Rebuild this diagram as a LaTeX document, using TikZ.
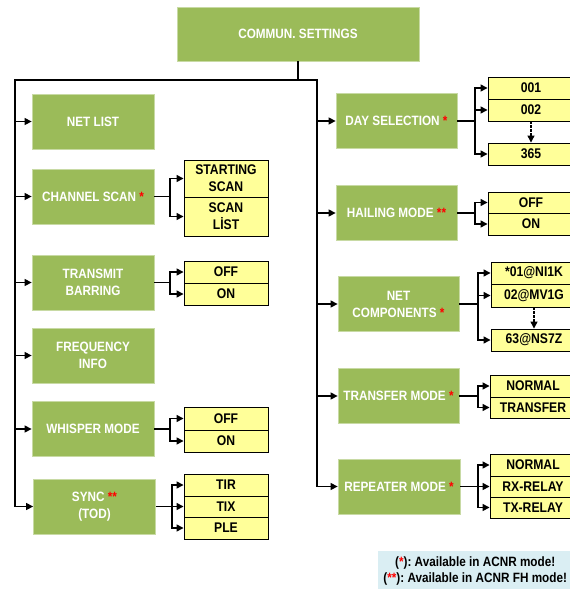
\documentclass[tikz,border=0pt]{standalone}
\usepackage{fontspec}
\setmainfont{Liberation Sans}[FakeStretch=0.87]
\usetikzlibrary{arrows.meta}
\definecolor{grn}{HTML}{9BBB59}
\definecolor{ylw}{HTML}{FFFF99}
\definecolor{lgnd}{HTML}{DAEEF3}
\newcommand\redst[1]{\textcolor{red}{#1}}
\begin{document}
\begin{tikzpicture}[x=1pt,y=-1pt,
 gbox/.style={fill=grn, draw=grn!55!white, line width=0.8pt, text=white,
   font=\fontsize{13.5}{17}\selectfont\bfseries, align=center, inner sep=0pt,
   minimum height=55pt, minimum width=122pt},
 ybox/.style={fill=ylw, draw=black, line width=0.9pt,
   font=\fontsize{14}{17}\selectfont\bfseries, align=center, inner sep=0pt},
 lyb/.style={ybox, minimum width=84pt},
 ryb/.style={ybox, minimum width=86pt},
 ln/.style={line width=1.4pt, draw=black},
 arr/.style={ln, -{Triangle[length=7pt,width=7pt]}},
 darr/.style={line width=1.2pt, dash pattern=on 2.5pt off 1.5pt, -{Triangle[length=7pt,width=7pt]}},
]
\clip (0,0) rectangle (570,589);

% top
\node[gbox, minimum width=242pt, minimum height=54pt] (top) at (298,34) {COMMUN. SETTINGS};

% left green
\node[gbox] (netlist) at (93,121.5) {NET LIST};
\node[gbox] (cscan) at (93,196.5) {CHANNEL SCAN \redst{*}};
\node[gbox] (tbar) at (93,282.5) {TRANSMIT\\BARRING};
\node[gbox] (finfo) at (93,355.5) {FREQUENCY\\INFO};
\node[gbox] (wmode) at (93,429) {WHISPER MODE};
\node[gbox] (sync) at (94.5,506.5) {SYNC \redst{**}\\(TOD)};

% right green
\node[gbox, minimum width=121pt] (day) at (396.5,121) {DAY SELECTION \redst{*}};
\node[gbox, minimum width=121pt] (hail) at (396.5,213) {HAILING MODE \redst{**}};
\node[gbox, minimum width=121pt] (ncomp) at (398.5,304) {NET\\COMPONENTS \redst{*}};
\node[gbox, minimum width=121pt] (tmode) at (398.5,396) {TRANSFER MODE \redst{*}};
\node[gbox, minimum width=122pt] (rmode) at (399,486.5) {REPEATER MODE \redst{*}};

% left yellow
\node[lyb, minimum height=37pt] (start) at (226,178.5) {STARTING\\SCAN};
\node[lyb, minimum height=39pt] (slist) at (226,216.5) {SCAN\\LİST};
\node[lyb, minimum height=22pt] (tboff) at (226,272) {OFF};
\node[lyb, minimum height=22pt] (tbon) at (226,294) {ON};
\node[lyb, minimum height=23pt] (wmoff) at (226,418.5) {OFF};
\node[lyb, minimum height=22pt] (wmon) at (226,441) {ON};
\node[lyb, minimum height=22pt] (tir) at (226,485) {TIR};
\node[lyb, minimum height=21pt] (tix) at (226,506.5) {TIX};
\node[lyb, minimum height=22pt] (ple) at (226,528) {PLE};

% right yellow
\node[ryb, minimum height=22pt] (d001) at (531,88) {001};
\node[ryb, minimum height=22pt] (d002) at (531,110) {002};
\node[ryb, minimum height=22pt] (d365) at (531,154) {365};
\node[ryb, minimum height=21pt] (hoff) at (531,202.5) {OFF};
\node[ryb, minimum height=22pt] (hon) at (531,224) {ON};
\node[ryb, minimum height=22pt] (n01) at (534,273) {*01@NI1K};
\node[ryb, minimum height=23pt] (n02) at (534,295.5) {02@MV1G};
\node[ryb, minimum height=22pt] (n63) at (534,340) {63@NS7Z};
\node[ryb, minimum height=22pt] (tnorm) at (533,386) {NORMAL};
\node[ryb, minimum height=21pt] (ttrans) at (533,407.5) {TRANSFER};
\node[ryb, minimum height=22pt] (rnorm) at (533,465) {NORMAL};
\node[ryb, minimum height=21pt] (rrx) at (533,486.5) {RX-RELAY};
\node[ryb, minimum height=21pt] (rtx) at (533,507.5) {TX-RELAY};

% trunk
\coordinate (jT) at (298,80);
\coordinate (jL) at (15,80);
\coordinate (jR) at (317,80);
\draw[ln] (top.south) -- (jT);
\draw[arr] (jT) -- (jL) |- (sync.west);
\draw[arr] (jT) -- (jR) |- (rmode.west);
\foreach \n in {netlist,cscan,tbar,finfo,wmode}
  \draw[arr] (jL |- \n.west) -- (\n.west);
\foreach \n in {day,hail,ncomp,tmode}
  \draw[arr] (jR |- \n.west) -- (\n.west);

% left branches
\coordinate (bcs) at (170,196.5);
\draw[ln] (cscan.east) -- (bcs);
\draw[arr] (bcs) |- (start.west);
\draw[arr] (bcs) |- (slist.west);
\coordinate (btb) at (170,282.5);
\draw[ln] (tbar.east) -- (btb);
\draw[arr] (btb) |- (tboff.west);
\draw[arr] (btb) |- (tbon.west);
\coordinate (bwm) at (170,429);
\draw[ln] (wmode.east) -- (bwm);
\draw[arr] (bwm) |- (wmoff.west);
\draw[arr] (bwm) |- (wmon.west);
\coordinate (bsy) at (172,506.5);
\draw[arr] (sync.east) -- (tix.west);
\draw[arr] (bsy) |- (tir.west);
\draw[arr] (bsy) |- (ple.west);

% right branches
\coordinate (bday) at (475,121);
\draw[ln] (day.east) -- (bday);
\draw[arr] (bday) |- (d001.west);
\draw[arr] (bday) |- (d002.west);
\draw[arr] (bday) |- (d365.west);
\draw[darr] (d002.south) -- (d365.north);
\coordinate (bhail) at (475,213);
\draw[ln] (hail.east) -- (bhail);
\draw[arr] (bhail) |- (hoff.west);
\draw[arr] (bhail) |- (hon.west);
\coordinate (bnc) at (478,304);
\draw[ln] (ncomp.east) -- (bnc);
\draw[arr] (bnc) |- (n01.west);
\draw[arr] (bnc) |- (n02.west);
\draw[arr] (bnc) |- (n63.west);
\draw[darr] (n02.south) -- (n63.north);
\coordinate (btm) at (478,396);
\draw[ln] (tmode.east) -- (btm);
\draw[arr] (btm) |- (tnorm.west);
\draw[arr] (btm) |- (ttrans.west);
\coordinate (brm) at (478,486.5);
\draw[arr] (rmode.east) -- (rrx.west);
\draw[arr] (brm) |- (rnorm.west);
\draw[arr] (brm) |- (rtx.west);

% legend
\node[fill=lgnd, minimum width=194pt, minimum height=40pt, inner sep=0pt, anchor=north west,
  font=\fontsize{13.5}{15.5}\selectfont\bfseries, align=center] (legend) at (378,551)
  {(\redst{*}):~Available in ACNR mode!\\(\redst{**}):~Available in ACNR FH mode!};
\end{tikzpicture}
\end{document}
